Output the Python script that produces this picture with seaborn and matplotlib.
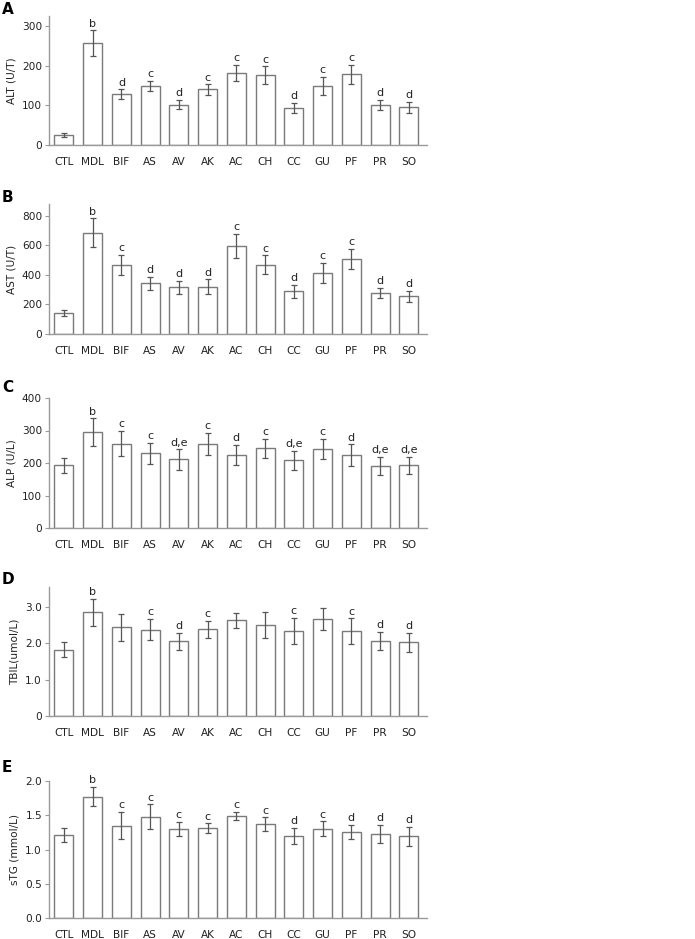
import matplotlib
matplotlib.use("Agg")
import matplotlib.pyplot as plt
import numpy as np
import pandas as pd
import seaborn as sns

# ── Data ──────────────────────────────────────────────────────────────────────
groups = ["CTL", "MDL", "BIF", "AS", "AV", "AK", "AC", "CH", "CC", "GU", "PF", "PR", "SO"]

alt_mean = [25, 256, 128, 148, 102, 140, 182, 176, 93, 149, 178, 100, 95]
alt_err = [4, 33, 12, 13, 11, 13, 20, 22, 13, 23, 24, 13, 14]
alt_sig = ["", "b", "d", "c", "d", "c", "c", "c", "d", "c", "c", "d", "d"]

ast_mean = [141, 687, 469, 342, 317, 320, 596, 469, 290, 413, 508, 277, 256]
ast_err = [22, 95, 68, 47, 44, 50, 82, 63, 44, 67, 67, 34, 37]
ast_sig = ["", "b", "c", "d", "d", "d", "c", "c", "d", "c", "c", "d", "d"]

alp_mean = [193, 295, 260, 230, 211, 258, 224, 245, 209, 244, 224, 191, 193]
alp_err = [23, 42, 38, 33, 31, 34, 31, 30, 29, 31, 33, 27, 27]
alp_sig = ["", "b", "c", "c", "d,e", "c", "d", "c", "d,e", "c", "d", "d,e", "d,e"]

tbil_mean = [1.83, 2.86, 2.44, 2.38, 2.06, 2.39, 2.63, 2.50, 2.34, 2.66, 2.33, 2.06, 2.03]
tbil_err = [0.20, 0.37, 0.37, 0.30, 0.23, 0.23, 0.20, 0.35, 0.36, 0.30, 0.36, 0.25, 0.26]
tbil_sig = ["", "b", "", "c", "d", "c", "", "", "c", "", "c", "d", "d"]

stg_mean = [1.21, 1.77, 1.35, 1.48, 1.30, 1.31, 1.49, 1.37, 1.20, 1.30, 1.26, 1.23, 1.19]
stg_err = [0.10, 0.14, 0.20, 0.18, 0.10, 0.07, 0.06, 0.10, 0.12, 0.11, 0.10, 0.13, 0.14]
stg_sig = ["", "b", "c", "c", "c", "c", "c", "c", "d", "c", "d", "d", "d"]

panels = [
    ("A", "ALT (U/T)", alt_mean, alt_err, alt_sig, [0, 100, 200, 300], ["0", "100", "200", "300"], 325),
    ("B", "AST (U/T)", ast_mean, ast_err, ast_sig, [0, 200, 400, 600, 800], ["0", "200", "400", "600", "800"], 880),
    ("C", "ALP (U/L)", alp_mean, alp_err, alp_sig, [0, 100, 200, 300, 400], ["0", "100", "200", "300", "400"], 400),
    ("D", "TBIL(umol/L)", tbil_mean, tbil_err, tbil_sig, [0, 1, 2, 3], ["0", "1.0", "2.0", "3.0"], 3.55),
    ("E", "sTG (mmol/L)", stg_mean, stg_err, stg_sig, [0, 0.5, 1.0, 1.5, 2.0], ["0.0", "0.5", "1.0", "1.5", "2.0"], 2.0),
]

# axes boxes in pixels: (top, bottom)
boxes = [(16, 145), (204, 334), (398, 528), (587, 716), (781, 918)]
letter_y = [10, 198, 387, 580, 767]

W, H = 695, 939
sns.set_theme(style="white")
plt.rcParams["font.family"] = ["DejaVu Sans"]

fig = plt.figure(figsize=(W / 100, H / 100), dpi=100)
fig.patch.set_facecolor("white")

AX_COL = "#9a9a9a"
TXT = "#222222"
FS = 7.6

for (tag, ylab, mean, err, sig, ticks, ticklabels, ymax), (top, bot), ly in zip(panels, boxes, letter_y):
    ax = fig.add_axes([49 / W, 1 - bot / H, (427 - 49) / W, (bot - top) / H])
    df = pd.DataFrame({"group": groups, "value": mean})
    sns.barplot(data=df, x="group", y="value", color="white", edgecolor="#7a7a7a",
                linewidth=1.0, width=0.66, errorbar=None, ax=ax)
    for p in ax.patches:
        p.set_facecolor("white")
    xs = np.arange(len(groups))
    ax.errorbar(xs, mean, yerr=err, fmt="none", ecolor="#555555",
                elinewidth=0.9, capsize=2.5, capthick=0.9)
    for x, m, e, s in zip(xs, mean, err, sig):
        if s:
            ax.annotate(s, (x, m + e), xytext=(0, 1.2), textcoords="offset points",
                        ha="center", va="bottom", fontsize=FS + 0.4, color=TXT)
    ax.set_xlim(-0.52, 12.63)
    ax.set_ylim(0, ymax)
    ax.set_yticks(ticks)
    ax.set_yticklabels(ticklabels)
    ax.set_xlabel("")
    ax.set_ylabel(ylab, fontsize=FS, color=TXT, labelpad=4)
    ax.tick_params(axis="y", which="major", left=True, length=3, width=0.8,
                   color=AX_COL, labelsize=FS, labelcolor=TXT, pad=2)
    ax.tick_params(axis="x", bottom=False, labelsize=FS, labelcolor=TXT, pad=2.5)
    sns.despine(ax=ax)
    for sp in ("left", "bottom"):
        ax.spines[sp].set_color(AX_COL)
        ax.spines[sp].set_linewidth(1.0)
    ax.set_facecolor("white")
    fig.text(2 / W, 1 - ly / H, tag, fontsize=11, fontweight="bold",
             color="black", ha="left", va="center")

fig.savefig("out.png", dpi=100, facecolor="white")
